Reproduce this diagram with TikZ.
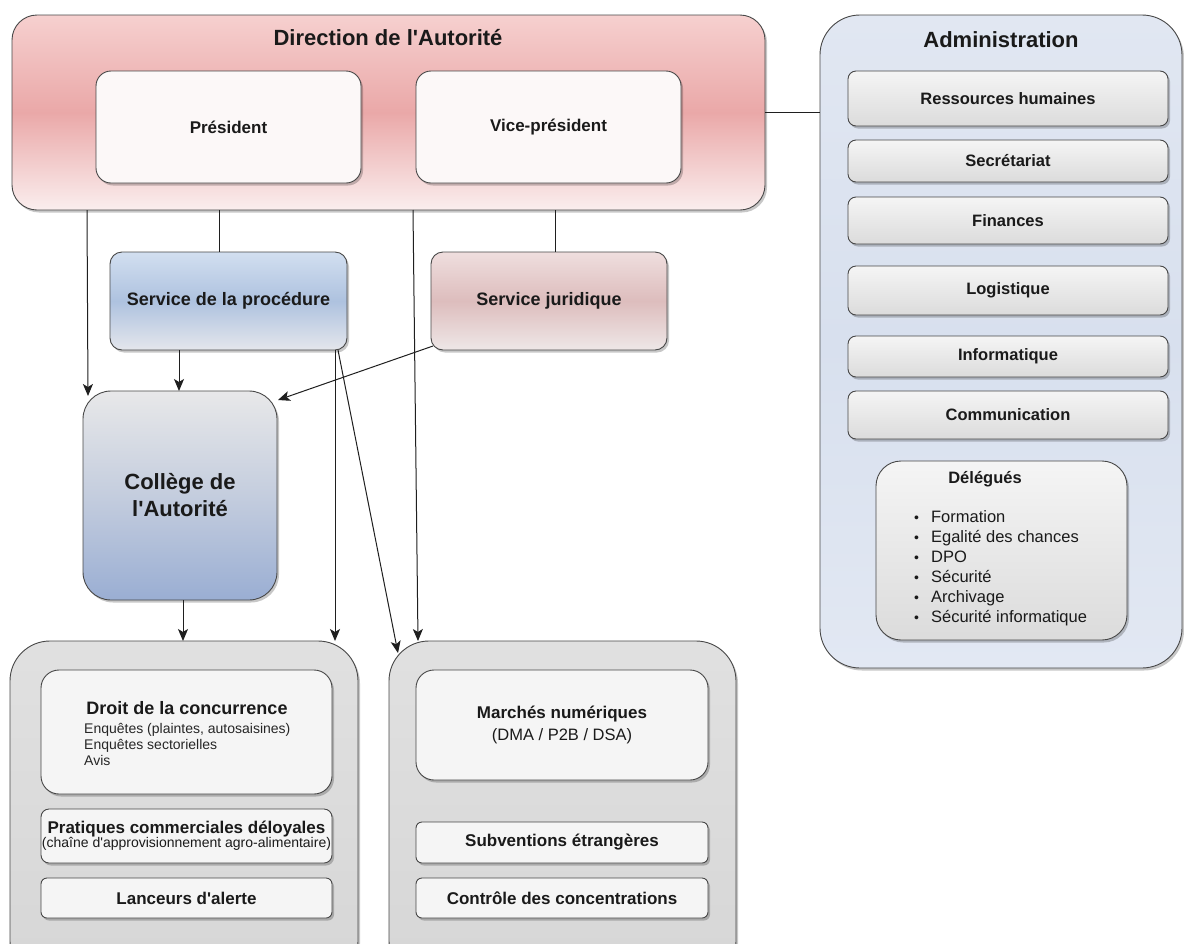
\documentclass[tikz,border=0pt]{standalone}
\usepackage{fontspec}
\setmainfont{Liberation Sans}[Ligatures=TeXOff]
\usetikzlibrary{arrows.meta,shadows,calc}
\definecolor{bord}{HTML}{474747}
\definecolor{txt}{HTML}{1A1A1A}
\begin{document}
\begin{tikzpicture}[x=1pt,y=-1pt,
  sh/.style={drop shadow={shadow xshift=2pt,shadow yshift=-2.5pt,fill=black,opacity=0.22}},
  box/.style={draw=bord,line width=0.9pt,anchor=north west,inner sep=0pt,outer sep=0pt,align=center,text=txt,sh},
  wbox/.style={box,fill=white!96!black},
  gbox/.style={box,top color=white!96!black,bottom color=white!86!black},
  arr/.style={-{Stealth[length=12pt,width=10pt,inset=3pt]},line width=1pt,draw=black!88},
  ln/.style={line width=1pt,draw=black!88},
  lbl/.style={text=txt,inner sep=0pt,align=center}]
\useasboundingbox (0,0) rectangle (1184,943);
\clip (0,0) rectangle (1184,943);
\fill[white] (0,0) rectangle (1184,943);

% Direction
\node[box,rounded corners=25pt,minimum width=753pt,minimum height=195pt,
  top color={rgb,255:red,246;green,208;blue,207},bottom color={rgb,255:red,250;green,238;blue,238},middle color={rgb,255:red,234;green,168;blue,168}] (dir) at (12,15) {};
\node[lbl,font=\bfseries\fontsize{22}{26}\selectfont] (dirT) at (388,38) {Direction de l'Autorité};
\node[box,fill={rgb,255:red,252;green,248;blue,248},rounded corners=15pt,minimum width=265pt,minimum height=112pt,font=\bfseries\fontsize{17}{20}\selectfont] (pres) at (96,71) {Président};
\node[box,fill={rgb,255:red,252;green,248;blue,248},rounded corners=15pt,minimum width=265pt,minimum height=112pt,font=\bfseries\fontsize{17}{20}\selectfont] (vice) at (416,71) {Vice-président};

% Administration
\node[box,rounded corners=40pt,minimum width=362pt,minimum height=653pt,
  top color={rgb,255:red,225;green,231;blue,242},bottom color={rgb,255:red,226;green,232;blue,243},middle color={rgb,255:red,216;green,224;blue,238}] (admin) at (820,15) {};
\node[lbl,font=\bfseries\fontsize{22}{26}\selectfont] (adminT) at (1001,40) {Administration};
\tikzset{adm/.style={gbox,rounded corners=8pt,minimum width=320pt,font=\bfseries\fontsize{16.5}{19}\selectfont}}
\node[adm,minimum height=55pt] (rh) at (848,71) {Ressources humaines};
\node[adm,minimum height=42pt] (sec) at (848,140) {Secrétariat};
\node[adm,minimum height=47pt] (fin) at (848,197) {Finances};
\node[adm,minimum height=49pt] (log) at (848,266) {Logistique};
\node[adm,minimum height=41pt] (inf) at (848,336) {Informatique};
\node[adm,minimum height=48pt] (com) at (848,391) {Communication};
\node[gbox,rounded corners=25pt,minimum width=251pt,minimum height=179pt] (del) at (876,461) {};
\node[lbl,font=\bfseries\fontsize{16.5}{19}\selectfont] (delT) at (985,479) {Délégués};
\node[lbl,anchor=base west,font=\fontsize{16.5}{20}\selectfont] (delL) at (914,522) {%
  \begin{tabular}[t]{@{}l@{\hspace{12pt}}l@{}}
  {\fontsize{14}{20}\selectfont\textbullet} & Formation\\
  {\fontsize{14}{20}\selectfont\textbullet} & Egalité des chances\\
  {\fontsize{14}{20}\selectfont\textbullet} & DPO\\
  {\fontsize{14}{20}\selectfont\textbullet} & Sécurité\\
  {\fontsize{14}{20}\selectfont\textbullet} & Archivage\\
  {\fontsize{14}{20}\selectfont\textbullet} & Sécurité informatique
  \end{tabular}};

% Services
\node[box,rounded corners=12pt,minimum width=237pt,minimum height=98pt,font=\bfseries\fontsize{18}{21}\selectfont,
  top color={rgb,255:red,210;green,223;blue,240},bottom color={rgb,255:red,228;green,230;blue,236},middle color={rgb,255:red,174;green,194;blue,223}] (proc) at (110,252) {Service de la procédure};
\node[box,rounded corners=12pt,minimum width=236pt,minimum height=98pt,font=\bfseries\fontsize{18}{21}\selectfont,
  top color={rgb,255:red,239;green,222;blue,222},bottom color={rgb,255:red,238;green,231;blue,231},middle color={rgb,255:red,221;green,189;blue,189}] (jur) at (431,252) {Service juridique};

% College
\node[box,rounded corners=28pt,minimum width=194pt,minimum height=209pt,font=\bfseries\fontsize{22}{27}\selectfont,
  top color={rgb,255:red,232;green,232;blue,233},bottom color={rgb,255:red,154;green,174;blue,211},middle color={rgb,255:red,196;green,205;blue,222}] (col) at (83,391) {Collège de\\l'Autorité};

% Bottom containers
\node[box,rounded corners=40pt,minimum width=348pt,minimum height=340pt,top color=white!88!black,bottom color=white!84!black,middle color=white!86!black] (contL) at (10,641) {};
\node[box,rounded corners=40pt,minimum width=347pt,minimum height=340pt,top color=white!88!black,bottom color=white!84!black,middle color=white!86!black] (contR) at (389,641) {};

\node[wbox,rounded corners=18pt,minimum width=291pt,minimum height=124pt] (droit) at (41,670) {};
\node[lbl,font=\bfseries\fontsize{18}{21}\selectfont] (droitT) at (187,708) {Droit de la concurrence};
\node[lbl,anchor=base west,font=\fontsize{14}{16}\selectfont,text=black!85] (droitL) at (84,733) {%
  \begin{tabular}[t]{@{}l@{}}Enquêtes (plaintes, autosaisines)\\Enquêtes sectorielles\\Avis\end{tabular}};
\node[wbox,rounded corners=8pt,minimum width=291pt,minimum height=54pt] (prat) at (41,809) {%
  {\bfseries\fontsize{17}{22}\selectfont Pratiques commerciales déloyales}\\[-1pt]
  {\fontsize{14}{17}\selectfont (chaîne d'approvisionnement agro-alimentaire)}};
\node[wbox,rounded corners=6pt,minimum width=291pt,minimum height=40pt,font=\bfseries\fontsize{17}{20}\selectfont] (lanc) at (41,878) {Lanceurs d'alerte};

\node[wbox,rounded corners=18pt,minimum width=292pt,minimum height=110pt] (march) at (416,670) {%
  {\bfseries\fontsize{17}{21}\selectfont Marchés numériques}\\[5pt]
  {\fontsize{16.5}{20}\selectfont (DMA / P2B / DSA)}};
\node[wbox,rounded corners=6pt,minimum width=292pt,minimum height=41pt,font=\bfseries\fontsize{17}{20}\selectfont] (subv) at (416,822) {Subventions étrangères};
\node[wbox,rounded corners=6pt,minimum width=292pt,minimum height=40pt,font=\bfseries\fontsize{17}{20}\selectfont] (ctrl) at (416,878) {Contrôle des concentrations};

% Connectors
\draw[ln] (dir.east) -- (dir.east -| admin.west);
\draw[ln] (219,0 |- dir.south) -- (219,0 |- proc.north);
\draw[ln] (555,0 |- dir.south) -- (555,0 |- jur.north);
\draw[arr] (87,0 |- dir.south) -- ($(88,0 |- col.north)+(0,5)$);
\draw[arr] (413,0 |- dir.south) -- (418,0 |- contR.north);
\draw[arr] (179,0 |- proc.south) -- (179,0 |- col.north);
\draw[arr] (335,0 |- proc.south) -- (335,0 |- contL.north);
\draw[arr] (338,0 |- proc.south) -- ($(398,0 |- contR.north)+(0,12)$);
\draw[arr] ($(jur.south west)+(2,-4)$) -- ($(col.north east)+(1,9)$);
\draw[arr] (183,0 |- col.south) -- (183,0 |- contL.north);
\end{tikzpicture}
\end{document}
